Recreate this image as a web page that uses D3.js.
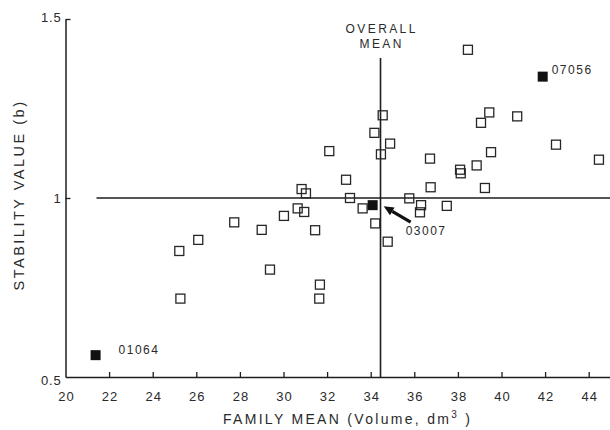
<!DOCTYPE html>
<html>
<head>
<meta charset="utf-8">
<script src="https://cdn.jsdelivr.net/npm/d3@7"></script>
<style>
  html, body { margin: 0; padding: 0; background: #fff; }
  svg { display: block; }
  text { font-family: "Liberation Sans", Arial, sans-serif; fill: #2a2a2a; }
</style>
</head>
<body>
<svg id="chart" width="610" height="430"></svg>
<script>
// ---- data ----
const familyMean = [25.22, 25.27, 26.09, 27.74, 29.0, 29.38, 30.02, 30.65, 30.95, 30.83, 31.03,
  31.45, 31.67, 31.64, 32.10, 32.87, 33.05, 33.63, 34.21, 34.17, 34.55, 34.47, 34.89, 34.78,
  35.77, 36.31, 36.26, 36.72, 36.75, 37.49, 38.46, 38.10, 38.13, 38.86, 39.06, 39.44, 39.52,
  39.24, 40.72, 42.50, 44.47];
const stabilityValue = [0.852, 0.719, 0.883, 0.932, 0.911, 0.800, 0.950, 0.971, 0.961, 1.025, 1.013,
  0.910, 0.758, 0.719, 1.131, 1.051, 1.000, 0.971, 0.929, 1.182, 1.231, 1.122, 1.152, 0.878,
  0.999, 0.980, 0.960, 1.110, 1.030, 0.978, 1.414, 1.079, 1.069, 1.091, 1.210, 1.239, 1.128,
  1.028, 1.228, 1.149, 1.107];
const labelIds = ["01064", "03007", "07056"];
const labelMean = [21.38, 34.09, 41.89];
const labelStability = [0.561, 0.980, 1.339];
const overallMean = 34.45;
const referenceStability = 1;
const xTicks = [20, 22, 24, 26, 28, 30, 32, 34, 36, 38, 40, 42, 44];
const yTicks = [0.5, 1, 1.5];
const yTickLabels = ["0.5", "1", "1.5"];

// ---- drawing ----
const svg = d3.select("#chart");
const x = d3.scaleLinear().domain([20, 45]).range([65.5, 610.5]);
const y = d3.scaleLinear().domain([0.5, 1.5]).range([377, 19]);
const ink = "#1e1e1e";

// reference lines
svg.append("line")
  .attr("x1", x(20) + 31).attr("x2", x(45))
  .attr("y1", y(referenceStability)).attr("y2", y(referenceStability))
  .attr("stroke", ink).attr("stroke-width", 1.5);
svg.append("line")
  .attr("x1", x(overallMean)).attr("x2", x(overallMean))
  .attr("y1", y(1.5) + 39).attr("y2", y(0.5))
  .attr("stroke", ink).attr("stroke-width", 1.6);

// axes
const xAxis = d3.axisBottom(x).tickValues(xTicks).tickSizeInner(-5).tickSizeOuter(0)
  .tickPadding(15).tickFormat(d3.format("d"));
const gx = svg.append("g").attr("transform", `translate(0,${y(0.5)})`).call(xAxis);
gx.select(".domain").attr("stroke", ink).attr("stroke-width", 1.5);
gx.selectAll(".tick line").attr("stroke", ink).attr("stroke-width", 1.3);
gx.selectAll(".tick").filter(d => d === 20).select("line").remove();
gx.selectAll(".tick text").attr("font-size", 13).attr("letter-spacing", 1)
  .attr("font-family", "Liberation Sans, Arial, sans-serif").attr("fill", "#2a2a2a")
  .attr("dx", 0.5);

const yAxis = d3.axisLeft(y).tickValues(yTicks).tickSizeInner(-5).tickSizeOuter(0)
  .tickPadding(4).tickFormat((d, i) => yTickLabels[i]);
const gy = svg.append("g").attr("transform", `translate(${x(20)},0)`).call(yAxis);
gy.select(".domain").attr("stroke", ink).attr("stroke-width", 1.5);
gy.selectAll(".tick line").attr("stroke", ink).attr("stroke-width", 1.3);
gy.selectAll(".tick").filter(d => d === 0.5).select("line").remove();
gy.selectAll(".tick text").attr("font-size", 13).attr("letter-spacing", 0.8)
  .attr("font-family", "Liberation Sans, Arial, sans-serif").attr("fill", "#2a2a2a")
  .attr("dy", (d) => d === 0.5 ? "0.55em" : d === 1.5 ? "0.2em" : "0.32em");

// open squares
const s = 9;
svg.append("g").selectAll("rect").data(familyMean).join("rect")
  .attr("x", (d) => x(d) - s / 2)
  .attr("y", (d, i) => y(stabilityValue[i]) - s / 2)
  .attr("width", s).attr("height", s)
  .attr("fill", "none").attr("stroke", "#262626").attr("stroke-width", 1.3);

// filled squares
const fs = 10;
svg.append("g").selectAll("rect").data(labelMean).join("rect")
  .attr("x", (d) => x(d) - fs / 2)
  .attr("y", (d, i) => y(labelStability[i]) - fs / 2)
  .attr("width", fs).attr("height", fs)
  .attr("fill", "#111");

// labels for highlighted families
const labelOffsets = [[23, -1], [33, 30], [9, -3]];
svg.append("g").selectAll("text").data(labelIds).join("text")
  .attr("x", (d, i) => x(labelMean[i]) + labelOffsets[i][0])
  .attr("y", (d, i) => y(labelStability[i]) + labelOffsets[i][1])
  .attr("font-size", 12).attr("letter-spacing", 1.5)
  .text(d => d);

// arrow to 03007
const ax = x(labelMean[1]), ay = y(labelStability[1]);
const tip = [ax + 11, ay + 1], tail = [ax + 38, ay + 17];
const ang = Math.atan2(tip[1] - tail[1], tip[0] - tail[0]);
const hl = 10, hw = 4.5;
const base = [tip[0] - hl * Math.cos(ang), tip[1] - hl * Math.sin(ang)];
svg.append("line")
  .attr("x1", tail[0]).attr("y1", tail[1]).attr("x2", base[0]).attr("y2", base[1])
  .attr("stroke", "#111").attr("stroke-width", 3.2);
svg.append("path")
  .attr("d", `M${tip[0]},${tip[1]} L${base[0] - hw * Math.sin(ang)},${base[1] + hw * Math.cos(ang)} L${base[0] + hw * Math.sin(ang)},${base[1] - hw * Math.cos(ang)} Z`)
  .attr("fill", "#111");

// overall mean label
const ml = svg.append("text").attr("text-anchor", "middle").attr("font-size", 12)
  .attr("letter-spacing", 2.4);
ml.append("tspan").attr("x", x(overallMean) + 1.2).attr("y", 33).text("OVERALL");
ml.append("tspan").attr("x", x(overallMean) + 1.2).attr("y", 48).text("MEAN");

// axis titles
const xt = svg.append("text").attr("x", 223).attr("y", 424).attr("font-size", 14)
  .attr("letter-spacing", 2.3);
xt.append("tspan").text("FAMILY MEAN (Volume, dm");
xt.append("tspan").attr("dy", -6).attr("font-size", 10).text("3");
xt.append("tspan").attr("dy", 6).text(" )");

svg.append("text")
  .attr("transform", "translate(19,195) rotate(-90)")
  .attr("text-anchor", "middle").attr("dy", "0.36em")
  .attr("font-size", 14.5).attr("letter-spacing", 2.5)
  .text("STABILITY VALUE (b)");
</script>
</body>
</html>
